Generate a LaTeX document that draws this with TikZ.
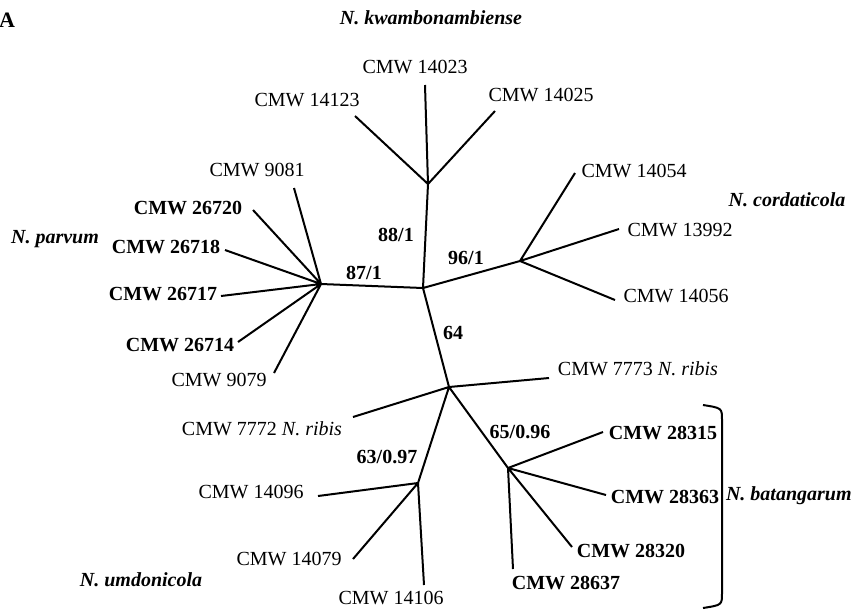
\documentclass[tikz,border=0pt]{standalone}
\usepackage{fontspec}
\setmainfont{Liberation Serif}
\usetikzlibrary{arrows}

\begin{document}
\begin{tikzpicture}[x=0.5pt, y=-0.5pt, line width=1pt,
		every node/.style={inner sep=0pt, font=\fontsize{10}{12}\selectfont},
		bstrain/.style={font=\fontsize{10}{12}\selectfont\bfseries},
		species/.style={font=\fontsize{10}{12}\selectfont\bfseries\itshape},
		support/.style={font=\fontsize{10}{12}\selectfont\bfseries}]
		\useasboundingbox (0, 0) rectangle (851, 612);
		\node[font=\fontsize{11}{13}\selectfont\bfseries] (A) at (7, 20) {A};
		
		% internal nodes
		\coordinate (c) at (423, 288);
		\coordinate (k) at (428, 184);
		\coordinate (p) at (321, 284);
		\coordinate (d) at (520, 261);
		\coordinate (r) at (449, 387);
		\coordinate (u) at (418, 483);
		\coordinate (b) at (508, 468);
		
		% leaf ends
		\coordinate (l14023) at (425, 85);
		\coordinate (l14123) at (355, 116);
		\coordinate (l14025) at (495, 111);
		\coordinate (l9081) at (294, 188);
		\coordinate (l26720) at (253, 210);
		\coordinate (l26718) at (225, 250);
		\coordinate (l26717) at (221, 296);
		\coordinate (l26714) at (238, 342);
		\coordinate (l9079) at (274, 373);
		\coordinate (l14054) at (575, 173);
		\coordinate (l13992) at (619, 229);
		\coordinate (l14056) at (615, 300);
		\coordinate (l7773) at (549, 378);
		\coordinate (l7772) at (353, 417);
		\coordinate (l14096) at (318, 496);
		\coordinate (l14079) at (353, 559);
		\coordinate (l14106) at (424, 585);
		\coordinate (l28315) at (603, 432);
		\coordinate (l28363) at (606, 495);
		\coordinate (l28320) at (572, 547);
		\coordinate (l28637) at (513, 569);
		
		% labels
		\node (t14023) at (415, 67) {CMW 14023};
		\node (t14123) at (307, 100) {CMW 14123};
		\node (t14025) at (541, 95) {CMW 14025};
		\node (t9081) at (257, 170) {CMW 9081};
		\node[bstrain] (t26720) at (188, 208) {CMW 26720};
		\node[bstrain] (t26718) at (166, 247) {CMW 26718};
		\node[bstrain] (t26717) at (163, 294) {CMW 26717};
		\node[bstrain] (t26714) at (180, 345) {CMW 26714};
		\node (t9079) at (219, 380) {CMW 9079};
		\node (t14054) at (634, 171) {CMW 14054};
		\node (t13992) at (680, 230) {CMW 13992};
		\node (t14056) at (676, 296) {CMW 14056};
		\node (t7773) at (638, 369) {CMW 7773 \textit{N. ribis}};
		\node (t7772) at (262, 429) {CMW 7772 \textit{N. ribis}};
		\node (t14096) at (251, 492) {CMW 14096};
		\node (t14079) at (289, 559) {CMW 14079};
		\node (t14106) at (391, 598) {CMW 14106};
		\node[bstrain] (t28315) at (663, 433) {CMW 28315};
		\node[bstrain] (t28363) at (665, 497) {CMW 28363};
		\node[bstrain] (t28320) at (631, 551) {CMW 28320};
		\node[bstrain] (t28637) at (566, 583) {CMW 28637};
		
		\node[species] (kwa) at (431, 18) {N. kwambonambiense};
		\node[species] (par) at (55, 239) {N. parvum};
		\node[species] (cor) at (787, 200) {N. cordaticola};
		\node[species] (umd) at (141, 580) {N. umdonicola};
		\node[species, anchor=west] (bat) at (725, 496) {N. batangarum};
		
		\node[support] (s88) at (396, 235) {88/1};
		\node[support] (s87) at (364, 273) {87/1};
		\node[support] (s96) at (466, 258) {96/1};
		\node[support] (s64) at (453, 333) {64};
		\node[support] (s63) at (387, 457) {63/0.97};
		\node[support] (s65) at (520, 432) {65/0.96};
		
		% tree
		\draw (c) -- (k) (c) -- (p) (c) -- (d) (c) -- (r)
			(r) -- (u) (r) -- (b) (r) -- (l7773) (r) -- (l7772);
		\draw (k) -- (l14023) (k) -- (l14123) (k) -- (l14025);
		\draw (p) -- (l9081) (p) -- (l26720) (p) -- (l26718) (p) -- (l26717)
			(p) -- (l26714) (p) -- (l9079);
		\draw (d) -- (l14054) (d) -- (l13992) (d) -- (l14056);
		\draw (u) -- (l14096) (u) -- (l14079) (u) -- (l14106);
		\draw (b) -- (l28315) (b) -- (l28363) (b) -- (l28320) (b) -- (l28637);
		
		% bracket
		\draw (703, 405) .. controls (722, 408) .. (722, 420) -- (722, 593)
			.. controls (722, 605) .. (703, 608);
	\end{tikzpicture}
\end{document}
